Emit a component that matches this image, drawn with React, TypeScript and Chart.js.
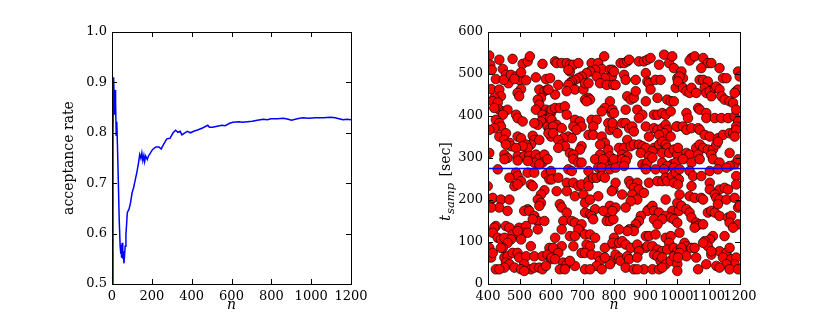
import React, { useEffect, useRef } from "react";
import { Chart, registerables } from "chart.js";

Chart.register(...registerables);

// ---------- left panel data ----------
const rateN = [1,5,8,11,13,16,18,21,24,27,32,36,41,44,46,48,51,54,57,60,63,66,70,77,85,93,101,109,117,125,133,139,145,150,155,160,164,169,177,183,193,204,220,236,247,259,275,291,307,319,331,342,351,362,378,394,410,433,457,481,489,504,528,552,568,591,607,639,655,680,704,730,759,780,798,830,862,885,901,930,957,990,1020,1060,1099,1120,1140,1160,1180,1200];
const rateValues = [0.5,0.8,0.91,0.87,0.836,0.885,0.86,0.795,0.822,0.78,0.70,0.63,0.575,0.56,0.578,0.552,0.582,0.55,0.565,0.541,0.556,0.575,0.598,0.642,0.648,0.661,0.681,0.692,0.707,0.722,0.74,0.757,0.749,0.76,0.745,0.755,0.743,0.754,0.747,0.754,0.76,0.767,0.772,0.772,0.768,0.777,0.788,0.789,0.80,0.805,0.801,0.803,0.796,0.799,0.803,0.80,0.803,0.806,0.81,0.815,0.811,0.811,0.813,0.815,0.814,0.819,0.821,0.822,0.821,0.822,0.823,0.825,0.827,0.826,0.828,0.828,0.829,0.827,0.825,0.828,0.830,0.829,0.830,0.830,0.831,0.830,0.828,0.826,0.827,0.826];
const leftXTicks = [0, 200, 400, 600, 800, 1000, 1200];
const leftYTicks = [0.5, 0.6, 0.7, 0.8, 0.9, 1.0];

// ---------- right panel data ----------
const rightXTicks = [400, 500, 600, 700, 800, 900, 1000, 1100, 1200];
const rightYTicks = [0, 100, 200, 300, 400, 500, 600];
const meanT = 275;
const sampPoints: [number, number][] = [
  [404,544],[407,522],[412,510],[436,534],[478,536],[510,524],[526,530],[533,542],[573,524],
  [447,512],[425,488],[457,498],[465,478],[450,486],[473,498],[489,494],[499,486],[521,485],[505,504],[484,488],
  [552,492],[584,488],
  [410,464],[436,463],[441,447],[420,443],[505,464],[494,455],[499,447],
  [563,463],[579,459],[589,463],[568,443],[558,439],
  [415,435],[431,432],[436,415],[420,419],[452,411],[462,415],[447,403],
  [563,427],[552,415],[584,415],[595,411],[573,403],[589,395],[600,407],[579,391],[568,387],[558,379],[547,383],
  [489,403],[494,395],[510,387],
  [425,391],[436,383],[441,375],
  [420,371],[404,367],[436,351],[457,359],[452,343],
  [494,351],[505,347],[542,353],[547,343],[563,343],[536,332],[521,332],[526,324],[510,328],
  [589,375],[595,367],[600,351],
  [468,336],[473,328],[489,324],[457,332],
  [404,312],[452,308],[462,300],[494,304],[515,304],[531,305],[552,308],[563,300],[579,308],
  [452,297],[494,294],[547,289],[573,289],[589,297],[526,293],[563,285],
  [431,273],[489,265],[494,257],[505,245],[468,253],[536,237],[542,233],[526,265],[547,265],[584,261],[595,249],[600,269],
  [399,233],[484,233],[494,237],[579,223],[568,213],
  [410,201],[415,205],[441,201],[468,201],[436,182],[462,174],[410,182],
  [558,201],[568,193],[563,186],[526,178],[515,174],[531,174],[547,162],[558,150],[579,150],[542,154],
  [425,138],[420,134],[415,122],[457,138],[468,134],[499,134],[521,138],[515,122],[489,118],[478,118],[494,126],[526,122],
  [431,110],[441,106],[452,110],[473,106],[462,98],[505,106],[558,130],[536,90],[595,86],[447,86],[404,86],[410,63],
  [441,86],[415,74],[452,63],[462,66],[478,74],[494,74],[499,63],[521,66],[547,66],[573,66],[589,70],[600,59],
  [457,51],[468,47],[515,47],[452,39],[425,35],[436,35],[484,39],[505,35],[536,35],[547,39],[563,39],[573,35],[584,43],[515,31],
  [613,530],[618,526],[634,526],[650,526],[660,522],[671,522],[687,526],[660,506],[655,510],
  [729,526],[750,526],[769,542],[761,512],[740,510],[724,506],[713,502],[787,510],[793,494],[771,490],
  [697,494],[687,490],[676,486],[666,482],[660,478],[655,474],[676,463],[650,459],[703,463],[708,478],[719,478],[745,494],[756,478],[777,474],[798,474],
  [597,490],[623,474],[613,451],[592,463],
  [719,443],[708,439],[724,439],[713,435],
  [787,435],[771,419],[793,407],[761,411],
  [602,415],[613,419],[628,419],[644,423],[650,403],[597,395],[602,391],[618,379],[607,375],[634,371],[676,391],[692,387],[697,375],[671,375],[681,367],
  [729,391],[745,391],[734,375],[782,383],[787,367],[798,371],
  [592,359],[607,359],[655,351],[666,347],[639,347],[623,343],[719,355],[734,355],[761,351],[771,336],[756,332],
  [634,332],[644,328],[623,324],[697,328],[692,320],[660,312],[671,308],[756,308],[782,320],[787,304],
  [671,297],[687,289],[697,289],[782,289],[798,289],[740,297],[766,297],
  [655,273],[666,269],[750,277],[761,277],[787,273],[719,269],
  [602,249],[623,253],[650,241],[671,241],[687,233],[697,237],[719,245],[734,253],[745,253],[761,257],[771,253],[719,233],[798,225],[618,221],[650,221],[676,209],[703,213],[708,193],[724,201],[750,209],[793,221],
  [628,190],[634,182],[650,170],[708,170],[724,166],[740,178],[787,186],[793,174],[777,170],[766,174],[729,162],[734,154],[777,150],[787,150],[798,154],
  [639,150],[666,150],[676,146],[634,130],[697,142],[692,126],[687,130],[708,118],[724,118],[740,110],[660,114],[676,114],[613,110],[713,94],[724,90],[671,90],[634,90],[607,86],[771,86],[798,94],
  [623,74],[602,63],[613,59],[639,51],[650,47],[676,43],[660,55],[697,74],[708,74],[729,70],[750,66],[756,55],[745,43],[793,55],[787,47],[771,63],
  [628,35],[644,35],[708,35],[724,35],[761,35],
  [821,526],[832,526],[842,530],[848,534],[879,530],[895,530],[906,534],[916,538],[943,522],[959,546],[975,526],[985,542],[990,514],
  [795,510],[800,506],[832,498],[837,486],[869,486],[901,502],[906,482],[911,478],[932,486],[948,486],[1001,490],[1006,474],[996,467],
  [805,474],[842,447],[853,439],[863,443],[869,459],[916,463],[938,443],[901,435],[969,439],[980,435],[990,435],[795,415],[837,415],[874,415],[890,403],[879,395],[901,375],[927,403],[938,403],[953,407],[964,403],[980,411],
  [800,407],[795,383],[826,383],[837,383],[848,371],[858,375],[863,363],[811,359],[842,343],[911,351],[927,371],[938,367],[953,371],[964,379],[969,367],[959,359],[980,351],[943,355],[1001,375],
  [816,324],[832,324],[826,308],[842,304],[853,328],[863,332],[879,332],[890,328],[901,324],[885,312],[927,324],[922,316],[943,332],[953,339],[964,332],[969,324],[953,312],[975,312],[990,320],[1001,308],[911,304],
  [800,297],[826,297],[890,285],[901,281],[906,289],[922,301],[953,289],[985,285],[996,289],[969,281],[837,293],
  [805,277],[832,281],[901,273],[932,273],[959,273],[990,277],
  [805,241],[848,245],[853,237],[874,241],[863,229],[879,225],[895,217],[911,241],[938,245],[953,245],[964,253],[969,245],[985,257],[996,265],[1006,249],[990,241],
  [826,213],[858,213],[874,201],[853,197],[837,182],[805,182],[795,174],[911,178],[906,174],[922,186],[927,174],[943,170],[927,154],[964,201],[1001,193],[985,174],[964,162],[980,158],[990,154],[1001,146],[953,154],[938,142],[1006,174],
  [885,162],[879,150],[869,142],[858,130],[848,130],[863,126],[842,126],[816,130],[901,114],[911,114],[932,118],[964,110],[980,114],[975,98],[800,110],[795,98],[816,98],[826,102],[837,94],[853,86],[874,94],[901,86],[906,90],[922,90],[938,82],[953,78],[969,82],[990,86],[1001,78],
  [805,70],[816,63],[821,55],[842,66],[848,59],[879,78],[874,63],[927,70],[938,66],[948,55],[953,63],[964,47],[980,55],[990,66],[1001,47],[837,39],[863,35],[895,35],[922,35],[943,35],[953,39],[874,35],[1001,31],
  [1046,538],[1040,532],[1056,542],[1083,538],[1098,526],[1109,526],[1077,514],[1135,514],[1194,506],[1199,494],
  [1014,506],[1019,490],[1008,494],[1003,482],[1019,467],[1030,459],[1040,455],[1046,467],[1061,455],[1072,486],[1083,486],[1098,482],[1088,467],[1093,455],[1104,459],[1109,447],[1120,467],[1125,470],[1135,463],[1141,447],[1146,490],[1157,490],[1151,439],[1167,435],[1178,431],[1188,459],[1194,463],[1183,455],
  [1030,407],[1035,395],[1067,419],[1072,415],[1093,407],[1093,395],[1120,395],[1141,395],[1162,395],[1183,399],[1188,415],[1194,387],[1188,375],
  [998,375],[1019,375],[1030,367],[1046,371],[1067,371],[1072,367],[1088,355],[1104,351],[1130,347],[1146,355],[1167,359],[1178,359],[1188,367],[1183,351],
  [1003,324],[1030,312],[1040,308],[1061,324],[1072,332],[1083,324],[1098,320],[1114,320],[1125,332],[1130,339],[1109,308],[1167,312],[1067,308],
  [1019,297],[1046,289],[1072,297],[1114,297],[1135,289],[1183,285],[1194,297],[1167,281],
  [1008,273],[1040,269],[1051,257],[1077,257],[1104,269],[1188,257],[1130,273],[1157,277],
  [1003,237],[1046,233],[1104,241],[1104,225],[1135,225],[1151,229],[1162,225],[1188,237],[1008,213],[1040,209],[1056,205],[1077,205],[1083,201],[1120,213],[1125,205],[1135,201],[1157,201],[1183,205],[1194,182],[1199,186],
  [1014,186],[1030,178],[1040,170],[1046,158],[1061,146],[1072,142],[1061,138],[1056,134],[1083,142],[1098,170],[1109,174],[1120,170],[1130,190],[1135,162],[1162,158],[1172,162],[1167,146],[1194,142],[1178,134],[1151,114],[1114,114],[1104,106],[1088,102],[1098,90],[1083,98],
  [1008,122],[1024,98],[1030,90],[1014,86],[1008,74],[1030,66],[1046,86],[1056,86],[1003,63],[1061,63],[1109,70],[1135,78],[1157,74],[1167,86],[1146,63],[1172,59],[1188,63],[1183,47],[1157,47],[1125,43],[1067,35],[1093,47],[1135,39],[1167,35],[1194,35],[1109,78]
];

const FONT = "'DejaVu Serif', serif";
const FS = 13;
const LFS = 14;

function framePlugin(id: string, xt: number[], yt: number[]) {
  return {
    id,
    afterDraw(chart: any) {
      const { ctx, chartArea: a, scales } = chart;
      const xs = scales.x, ys = scales.y;
      const L = 5;
      ctx.save();
      ctx.strokeStyle = "#000";
      ctx.lineWidth = 1;
      ctx.beginPath();
      xt.forEach((v) => {
        const px = Math.round(xs.getPixelForValue(v)) + 0.5;
        ctx.moveTo(px, a.bottom); ctx.lineTo(px, a.bottom - L);
        ctx.moveTo(px, a.top); ctx.lineTo(px, a.top + L);
      });
      yt.forEach((v) => {
        const py = Math.round(ys.getPixelForValue(v)) + 0.5;
        ctx.moveTo(a.left, py); ctx.lineTo(a.left + L, py);
        ctx.moveTo(a.right, py); ctx.lineTo(a.right - L, py);
      });
      ctx.stroke();
      ctx.strokeRect(Math.round(a.left) + 0.5, Math.round(a.top) + 0.5, Math.round(a.right - a.left), Math.round(a.bottom - a.top));
      ctx.restore();
    },
  };
}

const subLabelPlugin = {
  id: "subLabel",
  afterDraw(chart: any) {
    const { ctx } = chart;
    ctx.save();
    ctx.translate(35, 221);
    ctx.rotate(-Math.PI / 2);
    ctx.fillStyle = "#000";
    ctx.textBaseline = "alphabetic";
    ctx.textAlign = "left";
    let x = 0;
    ctx.font = `italic ${LFS + 1}px ${FONT}`;
    ctx.fillText("t", x, 0);
    x += ctx.measureText("t").width + 1;
    ctx.font = `italic 11.5px ${FONT}`;
    ctx.fillText("samp", x, 4);
    x += ctx.measureText("samp").width + 2;
    ctx.font = `${LFS}px ${FONT}`;
    ctx.fillText(" [sec]", x, 0);
    ctx.restore();
  },
};

function tickFont() {
  return { family: FONT, size: FS };
}
const plainLabel = (v: any) => String(v);

function LeftChart() {
  const ref = useRef<HTMLCanvasElement>(null);
  useEffect(() => {
    const chart = new Chart(ref.current!, {
      type: "line",
      data: {
        datasets: [
          {
            data: rateN.map((n, i) => ({ x: n, y: rateValues[i] })),
            borderColor: "#0000ff",
            borderWidth: 1.5,
            pointRadius: 0,
            fill: false,
            tension: 0,
          },
        ],
      },
      options: {
        animation: false,
        responsive: false,
        layout: { padding: { left: 0, right: 64, top: 32, bottom: 0 } },
        plugins: { legend: { display: false }, tooltip: { enabled: false } },
        scales: {
          x: {
            type: "linear",
            min: 0,
            max: 1200,
            afterBuildTicks: (s: any) => { s.ticks = leftXTicks.map((v) => ({ value: v })); },
            ticks: { font: tickFont(), color: "#000", padding: 5, maxRotation: 0, minRotation: 0, autoSkip: false, callback: plainLabel },
            grid: { display: false, drawTicks: false },
            border: { display: false },
            title: { display: true, text: "n", color: "#000", font: { family: FONT, size: LFS, style: "italic" }, padding: { top: 0, bottom: 3 } },
            afterFit: (s: any) => { s.height = 33; },
          },
          y: {
            type: "linear",
            min: 0.5,
            max: 1.0,
            afterBuildTicks: (s: any) => { s.ticks = leftYTicks.map((v) => ({ value: v })); },
            ticks: { font: tickFont(), color: "#000", padding: 5, callback: (v: any) => Number(v).toFixed(1) },
            grid: { display: false, drawTicks: false },
            border: { display: false },
            title: { display: true, text: "acceptance rate", color: "#000", font: { family: FONT, size: LFS }, padding: { top: 61, bottom: 0 } },
            afterFit: (s: any) => { s.width = 112; },
          },
        },
      },
      plugins: [framePlugin("frameL", leftXTicks, leftYTicks)],
    } as any);
    return () => chart.destroy();
  }, []);
  return <canvas ref={ref} width={415} height={317} style={{ position: "absolute", left: 0, top: 0, width: 415, height: 317 }} />;
}

function RightChart() {
  const ref = useRef<HTMLCanvasElement>(null);
  useEffect(() => {
    const chart = new Chart(ref.current!, {
      type: "scatter",
      data: {
        datasets: [
          {
            type: "line",
            data: [{ x: 400, y: meanT }, { x: 1200, y: meanT }],
            borderColor: "#0000ff",
            borderWidth: 1.5,
            pointRadius: 0,
            fill: false,
            order: 0,
          },
          {
            type: "scatter",
            data: sampPoints.map(([n, t]) => ({ x: n, y: t })),
            backgroundColor: "#ff0000",
            borderColor: "#000000",
            borderWidth: 0.7,
            pointRadius: 4.8,
            clip: 0,
            order: 1,
          },
        ],
      },
      options: {
        animation: false,
        responsive: false,
        layout: { padding: { left: 0, right: 90, top: 32, bottom: 0 } },
        plugins: { legend: { display: false }, tooltip: { enabled: false } },
        scales: {
          x: {
            type: "linear",
            min: 400,
            max: 1200,
            afterBuildTicks: (s: any) => { s.ticks = rightXTicks.map((v) => ({ value: v })); },
            ticks: { font: tickFont(), color: "#000", padding: 5, maxRotation: 0, minRotation: 0, autoSkip: false, callback: plainLabel },
            grid: { display: false, drawTicks: false },
            border: { display: false },
            title: { display: true, text: "n", color: "#000", font: { family: FONT, size: LFS, style: "italic" }, padding: { top: 0, bottom: 3 } },
            afterFit: (s: any) => { s.height = 33; },
          },
          y: {
            type: "linear",
            min: 0,
            max: 600,
            afterBuildTicks: (s: any) => { s.ticks = rightYTicks.map((v) => ({ value: v })); },
            ticks: { font: tickFont(), color: "#000", padding: 5, callback: plainLabel },
            grid: { display: false, drawTicks: false },
            border: { display: false },
            title: { display: false },
            afterFit: (s: any) => { s.width = 73; },
          },
        },
      },
      plugins: [framePlugin("frameR", rightXTicks, rightYTicks), subLabelPlugin],
    } as any);
    return () => chart.destroy();
  }, []);
  return <canvas ref={ref} width={415} height={317} style={{ position: "absolute", left: 415, top: 0, width: 415, height: 317 }} />;
}

export default function App() {
  return (
    <div style={{ position: "absolute", left: 0, top: 0, width: 830, height: 317, background: "#fff" }}>
      <LeftChart />
      <RightChart />
    </div>
  );
}
